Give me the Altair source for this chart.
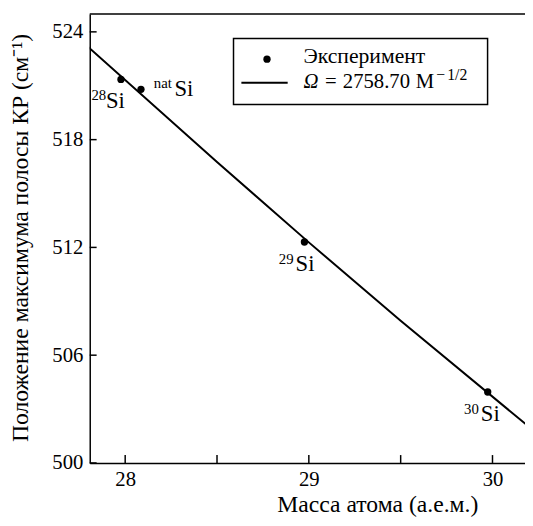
import altair as alt
import pandas as pd

# ---- data ----
iso_names = ["28", "nat", "29", "30"]
mass = [27.977, 28.086, 28.976, 29.974]
shift = [521.35, 520.8, 512.3, 503.95]
fit_mass = [27.8, 28.5, 29.0, 29.5, 30.2]
fit_shift = [523.15, 516.76, 512.28, 507.92, 502.0]
x_ticks = [28, 28.5, 29, 29.5, 30]
x_labels = [28, 29, 30]
y_ticks = [500, 506, 512, 518, 524]

W, H = 442, 456
FONT = "Liberation Serif"

pts = pd.DataFrame({"iso": iso_names, "m": mass, "w": shift})
fit = pd.DataFrame({"m": fit_mass, "w": fit_shift})
one = pd.DataFrame({"a": [0]})

xs = alt.Scale(domain=[27.807, 30.177], nice=False, zero=False)
ys = alt.Scale(domain=[500, 525], nice=False, zero=False)

x_axis = alt.Axis(values=x_labels, format="d", ticks=False, grid=False, domainColor="black", domainWidth=1.5,
                  labelFont=FONT, labelFontSize=21, labelColor="black", labelPadding=6, labelFlush=False,
                  title="Масса атома (а.е.м.)", titleFont=FONT, titleFontSize=24, titleFontWeight="normal",
                  titleColor="black", titleX=292, titleY=49, titleAlign="center", titleBaseline="alphabetic")
y_axis = alt.Axis(values=y_ticks, format="d", ticks=False, grid=False, domainColor="black", domainWidth=1.5,
                  labelFont=FONT, labelFontSize=21, labelColor="black", labelPadding=7, labelFlush=False,
                  title="Положение максимума полосы КР (см⁻¹)", titleFont=FONT, titleFontSize=24,
                  titleFontWeight="normal", titleColor="black", titleX=-63, titleY=227,
                  titleAlign="center", titleBaseline="alphabetic")

base_line = alt.Chart(fit).mark_line(color="black", strokeWidth=2, clip=True).encode(
    x=alt.X("m:Q", scale=xs, axis=x_axis),
    y=alt.Y("w:Q", scale=ys, axis=y_axis),
)

points = alt.Chart(pts).mark_point(filled=True, color="black", size=55, opacity=1).encode(
    x=alt.X("m:Q", scale=xs), y=alt.Y("w:Q", scale=ys)
)

xtick = alt.Chart(pd.DataFrame({"t": x_ticks})).mark_rule(color="black", strokeWidth=1.5).encode(
    x=alt.X("t:Q", scale=xs), y=alt.value(H), y2=alt.value(H - 8)
)
ytick = alt.Chart(pd.DataFrame({"t": y_ticks})).mark_rule(color="black", strokeWidth=1.5).encode(
    y=alt.Y("t:Q", scale=ys), x=alt.value(0), x2=alt.value(7)
)
top_border = alt.Chart(one).mark_rule(color="black", strokeWidth=1.5).encode(
    x=alt.value(0), x2=alt.value(W), y=alt.value(0)
)

# point labels: (iso, main dx, main dy, main align, sup dx, sup dy, sup align)
label_spec = [
    ("28", 4, 29, "right", -15, 21, "right"),
    ("nat", 34, 7, "left", 13, -1, "left"),
    ("29", -9, 29, "left", -11, 22, "right"),
    ("30", -7, 29, "left", -9, 22, "right"),
]
label_layers = []
for iso, mdx, mdy, mal, sdx, sdy, sal in label_spec:
    sub = alt.Chart(pts).transform_filter(alt.datum.iso == iso)
    label_layers.append(sub.mark_text(font=FONT, fontSize=23, color="black", align=mal, baseline="alphabetic",
                                      dx=mdx, dy=mdy, text="Si").encode(
        x=alt.X("m:Q", scale=xs), y=alt.Y("w:Q", scale=ys)))
    label_layers.append(sub.mark_text(font=FONT, fontSize=15, color="black", align=sal, baseline="alphabetic",
                                      dx=sdx, dy=sdy).encode(
        x=alt.X("m:Q", scale=xs), y=alt.Y("w:Q", scale=ys), text="iso:N"))

# legend
leg_box = alt.Chart(one).mark_rect(fill="white", stroke="black", strokeWidth=1.5).encode(
    x=alt.value(146), x2=alt.value(404), y=alt.value(25), y2=alt.value(92))
leg_dot = alt.Chart(one).mark_point(filled=True, color="black", size=55, opacity=1).encode(
    x=alt.value(180), y=alt.value(46))
leg_line = alt.Chart(one).mark_rule(color="black", strokeWidth=2).encode(
    x=alt.value(154), x2=alt.value(201), y=alt.value(70))


def leg_text(txt, x, y, size, **kw):
    return alt.Chart(one).mark_text(font=FONT, fontSize=size, color="black", align="left",
                                    baseline="alphabetic", text=txt, **kw).encode(
        x=alt.value(x), y=alt.value(y))


leg_texts = [
    leg_text("Эксперимент", 217, 50, 22),
    leg_text("Ω", 217, 75, 21, fontStyle="italic"),
    leg_text("=", 239, 75, 21),
    leg_text("2758.70", 257, 75, 21),
    leg_text("M", 331, 75, 21),
    leg_text("−", 352, 67, 16),
    leg_text("1/2", 363, 67, 16),
]

chart = alt.layer(
    base_line, xtick, ytick, top_border, points, *label_layers,
    leg_box, leg_dot, leg_line, *leg_texts,
).properties(
    width=W, height=H,
    autosize=alt.AutoSizeParams(type="none"),
    padding={"left": 83, "top": 2, "right": 0, "bottom": 58},
).configure_view(stroke=None)

chart.save("out.html", embed_options={"renderer": "svg", "actions": False})
